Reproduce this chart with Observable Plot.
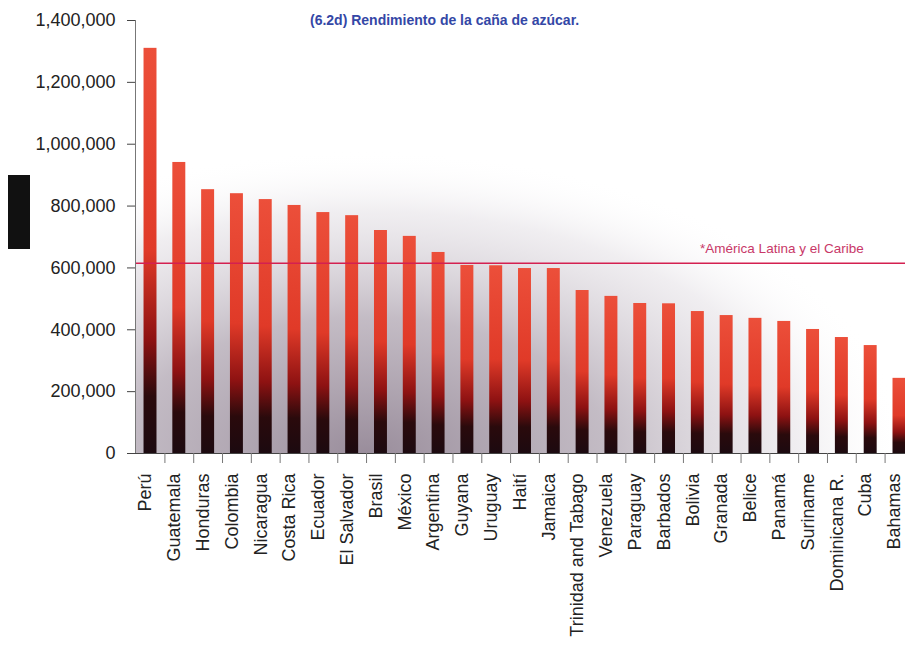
<!DOCTYPE html>
<html>
<head>
<meta charset="utf-8">
<script src="https://cdn.jsdelivr.net/npm/d3@7"></script>
<script src="https://cdn.jsdelivr.net/npm/@observablehq/plot@0.6"></script>
<style>
  html, body { margin: 0; padding: 0; background: #fff; }
  #wrap { position: relative; width: 905px; height: 646px; overflow: hidden; }
  #title { position: absolute; left: 310px; top: 12px; font: bold 14px "Liberation Sans", Arial, sans-serif; line-height: 16px; color: #3447a6; white-space: nowrap; }
  #blk { position: absolute; left: 8px; top: 175px; width: 22px; height: 74px; background: #111; }
</style>
</head>
<body>
<div id="wrap">
  <div id="chart"></div>
  <div id="title">(6.2d) Rendimiento de la caña de azúcar.</div>
  <div id="blk"></div>
</div>
<script>
const countries = ["Perú","Guatemala","Honduras","Colombia","Nicaragua","Costa Rica","Ecuador","El Salvador","Brasil","México","Argentina","Guyana","Uruguay","Haití","Jamaica","Trinidad and Tabago","Venezuela","Paraguay","Barbados","Bolivia","Granada","Belice","Panamá","Suriname","Dominicana R.","Cuba","Bahamas"];
const values = [1310000, 941000, 853000, 840000, 821000, 802000, 779000, 769000, 721000, 702000, 650000, 608000, 607000, 598000, 598000, 527000, 508000, 485000, 484000, 459000, 446000, 437000, 427000, 401000, 375000, 349000, 243000];
const yTicks = [0, 200000, 400000, 600000, 800000, 1000000, 1200000, 1400000];
const averageValue = 615000;
const averageLabel = "*América Latina y el Caribe";

const data = countries.map((c, i) => ({country: c, value: values[i]}));

const step = 28.8;
const chart = Plot.plot({
  width: 905,
  height: 646,
  marginLeft: 135,
  marginRight: 0,
  marginTop: 20,
  marginBottom: 193,
  style: {fontFamily: "'Liberation Sans', Arial, sans-serif", background: "transparent", color: "#222"},
  x: {domain: countries, range: [135, 914], paddingInner: 0.55, paddingOuter: 0.296, round: false, label: null},
  y: {domain: [0, 1400000], label: null},
  marks: [
    Plot.frame({fill: "url(#haze)", stroke: null}),
    Plot.barY(data, {x: "country", y: "value", fill: "url(#barGrad)"}),
    Plot.ruleY([averageValue], {stroke: "#d42050", strokeWidth: 1.6}),
    Plot.text([{country: "Cuba", value: averageValue, label: averageLabel}], {x: "country", y: "value", text: "label", textAnchor: "end", dx: -7, dy: -15, fill: "#c83868", fontSize: 13.5}),
    Plot.frame({anchor: "left", stroke: "#777"}),
    Plot.frame({anchor: "bottom", stroke: "#444"}),
    Plot.axisY({ticks: yTicks, tickFormat: d3.format(","), tickSize: 8, tickPadding: 12, fontSize: 18, label: null, stroke: "#444"}),
    Plot.axisX({tickSize: 10, text: null, dx: step / 2, stroke: "#777", label: null}),
    Plot.axisX({tickSize: 0, tickRotate: -90, tickPadding: 20, fontSize: 18, dx: -5, label: null, fill: "#222"})
  ]
});

const svg = d3.select(chart);
const defs = svg.insert("defs", ":first-child");
const bg = defs.append("linearGradient").attr("id", "barGrad").attr("x1", 0).attr("y1", 0).attr("x2", 0).attr("y2", 1);
[[0, "#ec4f3a"], [0.5, "#e03a28"], [0.72, "#8e1212"], [0.86, "#2a0a0c"], [1, "#1c0a10"]].forEach(([o, c]) =>
  bg.append("stop").attr("offset", o).attr("stop-color", c));
const hz = defs.append("radialGradient").attr("id", "haze").attr("cx", 0.3).attr("cy", 1).attr("r", 0.7);
[[0, "#8e8090", 0.9], [0.45, "#aa9fac", 0.7], [0.8, "#d4ced6", 0.35], [1, "#ffffff", 0]].forEach(([o, c, a]) =>
  hz.append("stop").attr("offset", o).attr("stop-color", c).attr("stop-opacity", a));

document.getElementById("chart").appendChild(chart);
</script>
</body>
</html>
